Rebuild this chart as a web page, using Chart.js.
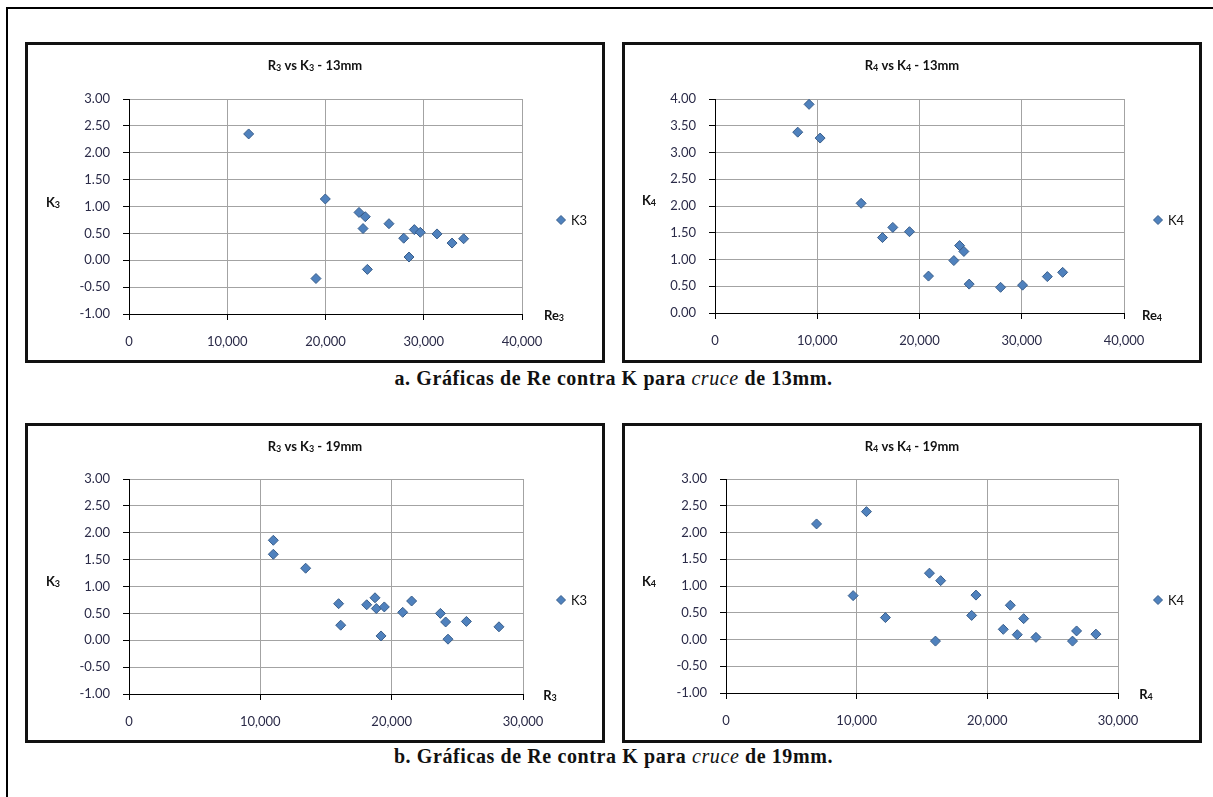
<!DOCTYPE html>
<html>
<head>
<meta charset="utf-8">
<title>Re contra K</title>
<script src="https://cdn.jsdelivr.net/npm/chart.js@4.4.1/dist/chart.umd.min.js"></script>
<style>
  body { margin: 0; background: #fff; width: 1213px; height: 797px; overflow: hidden; position: relative; font-family: Lato, sans-serif; }
  .frame { position: absolute; left: 6px; top: 7px; width: 1400px; height: 900px; border-left: 2px solid #000; border-top: 2px solid #000; }
  .panel { position: absolute; box-sizing: border-box; width: 580px; height: 320px; border: 3px solid #111; background: #fff; }
  .panel canvas { position: absolute; left: 0; top: 0; }
  .caption { position: absolute; left: 0; width: 1227px; text-align: center; font-family: "Liberation Serif", serif; font-weight: bold; font-size: 20px; line-height: 22px; letter-spacing: 0.6px; color: #111; }
  .caption i { font-weight: normal; }
</style>
</head>
<body>
<div class="frame"></div>

<div class="panel" style="left:25px; top:42px; height:321px;"><canvas id="c1" width="574" height="315"></canvas></div>
<div class="panel" style="left:622px; top:42px; height:321px;"><canvas id="c2" width="574" height="315"></canvas></div>
<div class="caption" style="top:367px;">a. Gráficas de Re contra K para <i>cruce</i> de 13mm.</div>

<div class="panel" style="left:25px; top:423px;"><canvas id="c3" width="574" height="314"></canvas></div>
<div class="panel" style="left:622px; top:423px;"><canvas id="c4" width="574" height="314"></canvas></div>
<div class="caption" style="top:745px;">b. Gráficas de Re contra K para <i>cruce</i> de 19mm.</div>

<script>
// ====== DATA ======
// cruce 13mm
const re3_13 = [12180, 19980, 23410, 24050, 23820, 26460, 27960, 29040, 29650, 31350, 32880, 34060, 28500, 24260, 19030];
const k3_13  = [2.35, 1.14, 0.89, 0.81, 0.59, 0.68, 0.41, 0.57, 0.52, 0.49, 0.32, 0.40, 0.06, -0.17, -0.34];

const re4_13 = [9200, 8090, 10280, 14290, 16380, 17390, 19020, 20880, 23360, 23920, 24340, 24860, 27930, 30080, 32500, 34000];
const k4_13  = [3.90, 3.38, 3.27, 2.05, 1.41, 1.60, 1.52, 0.69, 0.98, 1.26, 1.15, 0.54, 0.48, 0.52, 0.68, 0.76];

// cruce 19mm
const r3_19 = [10990, 10990, 13450, 15960, 16120, 18100, 18730, 18830, 19440, 19190, 20840, 21520, 23710, 24110, 24290, 25690, 28170];
const k3_19 = [1.86, 1.60, 1.34, 0.68, 0.28, 0.66, 0.79, 0.59, 0.62, 0.08, 0.52, 0.73, 0.50, 0.34, 0.02, 0.35, 0.25];

const r4_19 = [6930, 10750, 9730, 12200, 15570, 16430, 16030, 18800, 19130, 21220, 21760, 22290, 22780, 23720, 26520, 26830, 28310];
const k4_19 = [2.16, 2.39, 0.82, 0.41, 1.24, 1.10, -0.03, 0.45, 0.83, 0.19, 0.64, 0.09, 0.39, 0.04, -0.03, 0.16, 0.10];

const GRID = '#a3a3a3';
const TICK = '#2b2b48';
const FILL = '#4f81bd';
const EDGE = '#385d8a';

// draws 'R_3 vs K_3' style text, the char after '_' smaller and lowered
function subText(ctx, text, cx, cy) {
    const parts = text.split(/(_.)/).filter(p => p);
    const big = 'bold 13px Lato, sans-serif';
    const small = 'bold 9px Lato, sans-serif';
    let total = 0;
    parts.forEach(p => {
        ctx.font = p[0] === '_' ? small : big;
        total += ctx.measureText(p[0] === '_' ? p[1] : p).width;
    });
    let x = cx - total / 2;
    ctx.textAlign = 'left';
    parts.forEach(p => {
        const sub = p[0] === '_';
        ctx.font = sub ? small : big;
        const s = sub ? p[1] : p;
        ctx.fillText(s, x, sub ? cy + 2 : cy);
        x += ctx.measureText(s).width;
    });
}

// ====== TITLE, AXIS TITLES + LEGEND (Excel style placement) ======
const decor = {
    id: 'decor',
    afterDraw(chart, args, o) {
        const ctx = chart.ctx;
        ctx.save();
        ctx.fillStyle = '#111';
        ctx.textBaseline = 'middle';
        // chart title centred on the whole panel
        subText(ctx, o.title, chart.width / 2, o.titleY);
        subText(ctx, o.yTitle, o.yAt[0], o.yAt[1]);
        subText(ctx, o.xTitle, o.xAt[0], o.xAt[1]);

        // legend marker
        const [lx, ly] = o.legAt;
        const r = 4.5;
        ctx.beginPath();
        ctx.moveTo(lx, ly - r);
        ctx.lineTo(lx + r, ly);
        ctx.lineTo(lx, ly + r);
        ctx.lineTo(lx - r, ly);
        ctx.closePath();
        ctx.fillStyle = FILL;
        ctx.fill();
        ctx.strokeStyle = EDGE;
        ctx.lineWidth = 1;
        ctx.stroke();

        ctx.fillStyle = '#111';
        ctx.font = '13px Lato, sans-serif';
        ctx.textAlign = 'left';
        ctx.fillText(o.legend, lx + 10, ly + 1);
        ctx.restore();
    }
};

function makeChart(id, c) {
    new Chart(document.getElementById(id), {
        type: 'scatter',
        data: {
            datasets: [{
                label: c.legend,
                data: c.xs.map((x, i) => ({ x: x, y: c.ys[i] })),
                pointStyle: 'rectRot',
                pointRadius: 5,
                pointHoverRadius: 5,
                backgroundColor: FILL,
                borderColor: EDGE,
                borderWidth: 1
            }]
        },
        options: {
            responsive: false,
            animation: false,
            events: [],
            layout: { padding: { left: 0, right: c.padRight, top: c.padTop, bottom: 0 } },
            plugins: {
                legend: { display: false },
                tooltip: { enabled: false },
                title: { display: false },
                decor: { title: c.title, titleY: 21, yTitle: c.yTitle, xTitle: c.xTitle, legend: c.legend,
                         yAt: c.yAt, xAt: c.xAt, legAt: c.legAt }
            },
            scales: {
                x: {
                    type: 'linear', min: 0, max: c.xMax,
                    ticks: { stepSize: 10000, color: TICK, font: { family: 'Lato', size: 13 }, padding: 14, maxRotation: 0,
                             callback: v => v.toLocaleString('en-US') },
                    grid: { color: GRID, tickColor: '#000', tickLength: 6 },
                    border: { color: '#000' },
                    afterFit(s) { s.height = c.xAxisH; }
                },
                y: {
                    min: c.yMin, max: c.yMax,
                    ticks: { stepSize: 0.5, color: TICK, font: { family: 'Lato', size: 13 }, padding: 13,
                             callback: v => v.toFixed(2) },
                    grid: { color: GRID, tickColor: '#000', tickLength: 6 },
                    border: { color: '#000' },
                    afterFit(s) { s.width = c.yAxisW; }
                }
            }
        },
        plugins: [decor]
    });
}

document.addEventListener('DOMContentLoaded', function () {
    makeChart('c1', { title: 'R_3 vs K_3 - 13mm', legend: 'K3', yTitle: 'K_3', xTitle: 'Re_3',
        xs: re3_13, ys: k3_13, xMax: 40000, yMin: -1, yMax: 3,
        yAxisW: 101, padRight: 80, padTop: 54, xAxisH: 46,
        yAt: [25, 158], xAt: [526, 271], legAt: [533, 175] });

    makeChart('c2', { title: 'R_4 vs K_4 - 13mm', legend: 'K4', yTitle: 'K_4', xTitle: 'Re_4',
        xs: re4_13, ys: k4_13, xMax: 40000, yMin: 0, yMax: 4,
        yAxisW: 90, padRight: 75, padTop: 54, xAxisH: 47,
        yAt: [24, 156], xAt: [527, 271], legAt: [533, 175] });

    makeChart('c3', { title: 'R_3 vs K_3 - 19mm', legend: 'K3', yTitle: 'K_3', xTitle: 'R_3',
        xs: r3_19, ys: k3_19, xMax: 30000, yMin: -1, yMax: 3,
        yAxisW: 101, padRight: 79, padTop: 53, xAxisH: 46,
        yAt: [25, 156], xAt: [522, 270], legAt: [533, 174] });

    makeChart('c4', { title: 'R_4 vs K_4 - 19mm', legend: 'K4', yTitle: 'K_4', xTitle: 'R_4',
        xs: r4_19, ys: k4_19, xMax: 30000, yMin: -1, yMax: 3,
        yAxisW: 101, padRight: 81, padTop: 53, xAxisH: 47,
        yAt: [24, 156], xAt: [521, 269], legAt: [533, 174] });
});
</script>
</body>
</html>
